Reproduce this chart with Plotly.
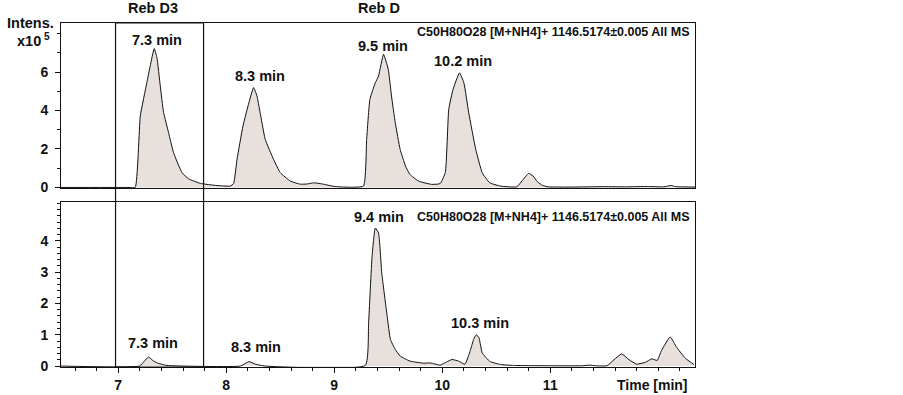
import plotly.graph_objects as go

# ---- data (time in min, intensity x10^5) ----
top_time = [6.47, 7.10, 7.157, 7.204, 7.265, 7.296, 7.333, 7.358, 7.389, 7.42, 7.466, 7.512, 7.59, 7.65, 7.76,
            7.914, 8.037, 8.068, 8.10, 8.155, 8.21, 8.253, 8.284, 8.361, 8.438, 8.50, 8.593, 8.685, 8.75, 8.81,
            8.90, 8.99, 9.086, 9.27, 9.30, 9.33, 9.38, 9.41, 9.456, 9.50, 9.53, 9.565, 9.61, 9.66, 9.70, 9.78,
            9.90, 9.98, 10.028, 10.06, 10.10, 10.16, 10.20, 10.245, 10.31, 10.37, 10.44, 10.54, 10.69, 10.74,
            10.80, 10.84, 10.88, 10.93, 10.98, 11.2, 11.5, 11.7, 11.9, 12.05, 12.12, 12.16, 12.34]
top_int = [0.0, 0.0, 0.0, 3.71, 5.45, 6.32, 7.22, 6.75, 5.28, 3.89, 2.85, 1.81, 0.77, 0.45, 0.21,
           0.10, 0.07, 0.20, 1.47, 3.20, 4.41, 5.19, 4.76, 2.50, 1.46, 0.77, 0.33, 0.17, 0.18, 0.24,
           0.17, 0.06, 0.02, 0.07, 2.50, 4.58, 5.44, 5.79, 6.92, 6.14, 4.75, 3.36, 1.98, 1.11, 0.68, 0.33,
           0.16, 0.20, 0.77, 4.06, 5.10, 5.96, 5.44, 3.88, 1.98, 0.76, 0.24, 0.07, 0.03, 0.35,
           0.73, 0.60, 0.30, 0.10, 0.03, 0.02, 0.04, 0.03, 0.05, 0.03, 0.10, 0.04, 0.02]

bot_time = [6.47, 7.197, 7.24, 7.28, 7.32, 7.36, 7.45, 8.13, 8.21, 8.27, 8.36, 9.287, 9.318, 9.35, 9.38,
            9.41, 9.44, 9.49, 9.52, 9.565, 9.61, 9.70, 9.83, 9.89, 9.98, 10.04, 10.09, 10.15, 10.21, 10.26,
            10.29, 10.315, 10.34, 10.37, 10.44, 10.54, 10.66, 11.0, 11.3, 11.36, 11.42, 11.525, 11.59, 11.66,
            11.73, 11.80, 11.88, 11.94, 11.99, 12.03, 12.11, 12.17, 12.25, 12.33]
bot_int = [0.0, 0.0, 0.15, 0.29, 0.18, 0.10, 0.02, 0.0, 0.14, 0.06, 0.0, 0.02, 1.38, 3.50, 4.41,
           4.25, 2.97, 1.59, 0.85, 0.53, 0.32, 0.16, 0.09, 0.10, 0.03, 0.13, 0.21, 0.16, 0.06, 0.50,
           0.85, 1.00, 0.90, 0.42, 0.15, 0.05, 0.02, 0.01, 0.01, 0.03, 0.01, 0.01, 0.20, 0.39,
           0.20, 0.06, 0.12, 0.23, 0.18, 0.50, 0.93, 0.60, 0.25, 0.05]

top_labels = ["7.3 min", "8.3 min", "9.5 min", "10.2 min"]
top_label_x = [7.36, 8.315, 9.45, 10.19]
top_label_y = [7.67, 5.78, 7.34, 6.56]
bot_labels = ["7.3 min", "8.3 min", "9.4 min", "10.3 min"]
bot_label_x = [7.324, 8.278, 9.41, 10.35]
bot_label_y = [0.75, 0.60, 4.77, 1.39]
x_ticks = [7, 8, 9, 10, 11]
top_y_ticks = [0, 2, 4, 6]
bot_y_ticks = [0, 1, 2, 3, 4]
formula = "C50H80O28 [M+NH4]+ 1146.5174±0.005 All MS"
box_range = [6.975, 7.79]

FILL = "#e8e0dd"
INK = "#111111"
FONT = "Liberation Sans, Arial, sans-serif"

fig = go.Figure()
fig.add_trace(go.Scatter(x=top_time, y=top_int, xaxis="x2", yaxis="y2", mode="lines",
                         line=dict(color=INK, width=1, shape="spline", smoothing=0.4),
                         fill="tozeroy", fillcolor=FILL, hoverinfo="skip", showlegend=False))
fig.add_trace(go.Scatter(x=bot_time, y=bot_int, xaxis="x", yaxis="y", mode="lines",
                         line=dict(color=INK, width=1, shape="spline", smoothing=0.4),
                         fill="tozeroy", fillcolor=FILL, hoverinfo="skip", showlegend=False))

tickfont = dict(family=FONT, size=14, color=INK, weight="bold")
xr = [6.47, 12.34]

fig.update_layout(
    width=903, height=395,
    margin=dict(l=61, r=208, t=23, b=28, autoexpand=False),
    paper_bgcolor="white", plot_bgcolor="white",
    xaxis=dict(domain=[0, 1], anchor="y", range=xr, tickvals=x_ticks, ticks="outside", ticklen=5,
               tickcolor=INK, tickfont=tickfont, showline=True, linecolor=INK, linewidth=1, mirror=True,
               showgrid=False, zeroline=False, automargin=False,
               minor=dict(dtick=0.2, tick0=0, ticks="outside", ticklen=3, tickcolor=INK, showgrid=False)),
    xaxis2=dict(domain=[0, 1], anchor="y2", matches="x", range=xr, showticklabels=False, ticks="",
                showline=True, linecolor=INK, linewidth=1, mirror=True, showgrid=False, zeroline=False,
                automargin=False),
    yaxis=dict(domain=[0, 0.4805], anchor="x", range=[-0.03, 5.25], tickvals=bot_y_ticks, ticks="outside",
               ticklen=5, tickcolor=INK, tickfont=tickfont, ticklabelstandoff=4, showline=True, linecolor=INK,
               linewidth=1, mirror=True, showgrid=False, zeroline=False, automargin=False,
               minor=dict(dtick=0.2, tick0=0, ticks="outside", ticklen=3, tickcolor=INK, showgrid=False)),
    yaxis2=dict(domain=[0.5203, 1], anchor="x2", range=[-0.03, 8.55], tickvals=top_y_ticks, ticks="outside",
                ticklen=5, tickcolor=INK, tickfont=tickfont, ticklabelstandoff=4, showline=True, linecolor=INK,
                linewidth=1, mirror=True, showgrid=False, zeroline=False, automargin=False,
                minor=dict(dtick=1, tick0=0, ticks="outside", ticklen=3, tickcolor=INK, showgrid=False)),
)

# Reb D3 box spanning both panels
fig.add_shape(type="rect", xref="x", yref="paper", x0=box_range[0], x1=box_range[1], y0=0, y1=1,
              line=dict(color=INK, width=1.2), fillcolor="rgba(0,0,0,0)", layer="above")

lab_font = dict(family=FONT, size=14.5, color=INK, weight="bold")
for t, x, y in zip(top_labels, top_label_x, top_label_y):
    fig.add_annotation(text=t, x=x, y=y, xref="x2", yref="y2", showarrow=False, font=lab_font,
                       xanchor="center", yanchor="middle")
for t, x, y in zip(bot_labels, bot_label_x, bot_label_y):
    fig.add_annotation(text=t, x=x, y=y, xref="x", yref="y", showarrow=False, font=lab_font,
                       xanchor="center", yanchor="middle")

small = dict(family=FONT, size=12.5, color=INK, weight="bold")
fig.add_annotation(text=formula, x=12.315, y=8.07, xref="x2", yref="y2", xanchor="right",
                   yanchor="middle", showarrow=False, font=small)
fig.add_annotation(text=formula, x=12.315, y=4.77, xref="x", yref="y", xanchor="right",
                   yanchor="middle", showarrow=False, font=small)

def px(p):
    return (p - 61) / 634

def py(q):
    return (367 - q) / 344

hdr = dict(family=FONT, size=14.5, color=INK, weight="bold")
for txt, p, q, f in [("Reb D3", 153, 8, hdr), ("Reb D", 379, 8, hdr), ("Intens.", 30, 23, hdr),
                     ("x10<sup> 5</sup>", 33, 40, hdr), ("Time [min]", 652, 385, tickfont)]:
    fig.add_annotation(text=txt, x=px(p), y=py(q), xref="paper", yref="paper", showarrow=False,
                       font=f, xanchor="center", yanchor="middle")

# remove the browser's default 8px body margin so the 903x395 figure fills the window exactly
fig.write_html("out.html", post_script="document.body.style.margin='0';",
               config={"displayModeBar": False})
